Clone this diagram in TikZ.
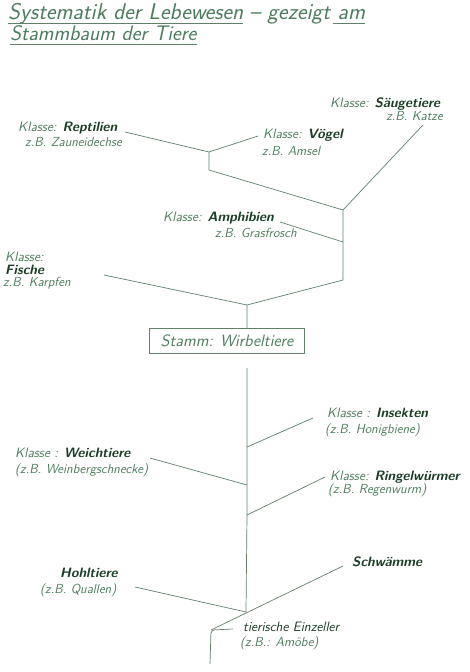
\documentclass[tikz,border=0pt]{standalone}
\usepackage{xcolor}
\usetikzlibrary{positioning}
\definecolor{inkgreen}{RGB}{78,124,94}
\definecolor{darkgreen}{RGB}{28,62,38}
\definecolor{stemgreen}{RGB}{96,128,106}
\newcommand{\gruppe}[1]{{\color{darkgreen}\bfseries #1}}

\begin{document}
\begin{tikzpicture}[x=0.03cm, y=-0.03cm,
  klasse/.style={inner sep=0pt, anchor=west, text=inkgreen, font=\sffamily\slshape\fontsize{11.6}{13}\selectfont},
  bsp/.style={klasse, font=\sffamily\slshape\fontsize{11.2}{13}\selectfont},
  titel/.style={inner sep=0pt, anchor=base west, text=inkgreen, font=\sffamily\slshape\fontsize{19.5}{21}\selectfont},
  ast/.style={draw=stemgreen, line width=0.6pt},
  stammbox/.style={draw=stemgreen, line width=0.6pt, text=inkgreen, minimum width=4.65cm, minimum height=0.77cm, font=\sffamily\slshape\fontsize{14}{16}\selectfont}]
  \useasboundingbox (0,0) rectangle (469,672);

  % Titel
  \node[titel] (t1a) at (8,19) {Systematik der Lebewesen};
  \node[titel, base right=5pt of t1a] (t1b) {-- gezeigt};
  \node[titel, base right=6pt of t1b] (t1c) {am};
  \node[titel, font=\sffamily\slshape\fontsize{18}{20}\selectfont] (t2) at (10,40) {Stammbaum der Tiere};
  \draw[ast] ([yshift=-3.5pt]t1a.base west) -- ([yshift=-3.5pt]t1a.base east);
  \draw[ast] ([yshift=-3.5pt,xshift=-4pt]t1c.base west) -- ([yshift=-3.5pt]t1c.base east);
  \draw[ast] ([yshift=-4pt]t2.base west) -- ([yshift=-4pt]t2.base east);

  % Klassen der Wirbeltiere
  \node[klasse] (rept) at (18,128) {Klasse: \gruppe{Reptilien}};
  \node[bsp] (reptbsp) at (25,142) {z.B. Zauneidechse};
  \node[klasse] (vogel) at (263,135) {Klasse: \gruppe{Vögel}};
  \node[bsp] (vogelbsp) at (262,151) {z.B. Amsel};
  \node[klasse] (saeug) at (330,104) {Klasse: \gruppe{Säugetiere}};
  \node[bsp, anchor=east] (saeugbsp) at (443,116) {z.B. Katze};
  \node[klasse] (amph) at (163,218) {Klasse: \gruppe{Amphibien}};
  \node[bsp] (amphbsp) at (215,233) {z.B. Grasfrosch};
  \node[klasse] (fischekl) at (5,257) {Klasse:};
  \node[klasse] (fische) at (5,270) {\gruppe{Fische}};
  \node[bsp] (fischebsp) at (3,283) {z.B. Karpfen};
  \node[stammbox] (stamm) at (227,341) {Stamm: Wirbeltiere};

  % wirbellose Tiere
  \node[klasse] (insekt) at (327,413) {Klasse : \gruppe{Insekten}};
  \node[bsp] (insektbsp) at (325,430) {(z.B. Honigbiene)};
  \node[klasse] (weich) at (15,453) {Klasse : \gruppe{Weichtiere}};
  \node[bsp] (weichbsp) at (15,470) {(z.B. Weinbergschnecke)};
  \node[klasse] (ringel) at (330,477) {Klasse: \gruppe{Ringelwürmer}};
  \node[bsp] (ringelbsp) at (328,490) {(z.B. Regenwurm)};
  \node[klasse] (hohl) at (60,573) {\gruppe{Hohltiere}};
  \node[bsp] (hohlbsp) at (40,590) {(z.B. Quallen)};
  \node[klasse] (schw) at (352,562) {\gruppe{Schwämme}};
  \node[klasse, text=darkgreen] (einz) at (243,627) {tierische Einzeller};
  \node[bsp] (einzbsp) at (240,643) {(z.B.: Amöbe)};

  % Verzweigungen
  \coordinate (r1) at (125,132);
  \coordinate (v1) at (258,136);
  \coordinate (s1) at (423,125);
  \coordinate (a1) at (280,222);
  \coordinate (f1) at (104,275);
  \coordinate (j1) at (209,152);
  \coordinate (j2) at (209,170);
  \coordinate (j3) at (343,210);
  \coordinate (j4) at (343,242);
  \coordinate (j5) at (343,280);
  \coordinate (j6) at (247,305);
  \coordinate (i1) at (313,418);
  \coordinate (w1) at (150,458);
  \coordinate (rw1) at (325,477);
  \coordinate (h1) at (135,587);
  \coordinate (sw1) at (343,566);
  \coordinate (e1) at (233,629);
  \coordinate (j7) at (247,368);
  \coordinate (j8) at (247,447);
  \coordinate (j9) at (247,485);
  \coordinate (j10) at (247,515);
  \coordinate (j11) at (246,612);
  \coordinate (j12) at (211,630);
  \coordinate (j13) at (210,664);

  \draw[ast] (r1) -- (j1) -- (j2) -- (j3) -- (j5) -- (j6) -- (j6 |- stamm.north);
  \draw[ast] (v1) -- (j1);
  \draw[ast] (s1) -- (j3);
  \draw[ast] (a1) -- (j4);
  \draw[ast] (f1) -- (j6);

  \draw[ast] (j7) -- (j8) -- (j9) -- (j10) -- (j11);
  \draw[ast] (i1) -- (j8);
  \draw[ast] (w1) -- (j9);
  \draw[ast] (rw1) -- (j10);
  \draw[ast] (h1) -- (j11);
  \draw[ast] (sw1) -- (j12);
  \draw[ast, rounded corners=3pt] (e1) -- (j12) -- (j13);
\end{tikzpicture}
\end{document}
